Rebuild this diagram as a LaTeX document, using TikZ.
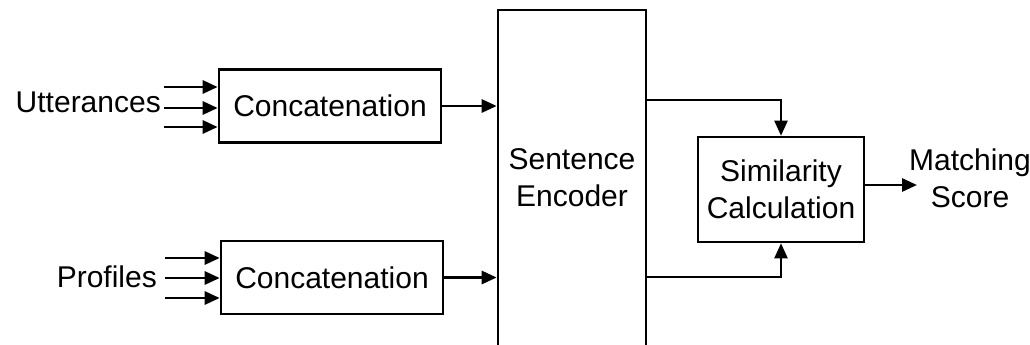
\documentclass[tikz,border=0pt]{standalone}
\usepackage{fontspec}
\setmainfont{Liberation Sans}
\usetikzlibrary{arrows.meta}
\begin{document}
\begin{tikzpicture}[x=1pt,y=-1pt,
  every node/.style={font=\fontsize{30}{37}\selectfont, inner sep=0pt},
  blk/.style={draw, line width=2.6pt, minimum width=222pt, minimum height=73pt, align=center},
  conn/.style={line width=2.8pt, -{Triangle[length=15pt,width=13pt]}}]
\useasboundingbox (0,0) rectangle (1030,345);
\clip (0,0) rectangle (1030,345);

% concatenation blocks
\node[blk] (cu) at (330,106) {Concatenation};
\node[blk] (cp) at (332,277.5) {Concatenation};

% sentence encoder (runs past the lower edge)
\node[draw, line width=2.6pt, minimum width=148pt, minimum height=350pt] (enc) at (572,185) {};
\node[align=center] (enctext) at (572,178) {Sentence\\Encoder};

% similarity block
\node[blk, minimum width=166pt, minimum height=105pt] (sim) at (781,189.5) {Similarity\\Calculation};

% output label
\node[align=center] (score) at (970,178) {Matching\\Score};

% input labels
\node[anchor=base east] (utt) at (161,112) {Utterances};
\node[anchor=base east] (prof) at (157,287) {Profiles};

% input arrow tails
\coordinate (u1) at (164,87);
\coordinate (u2) at (164,108);
\coordinate (u3) at (164,127);
\coordinate (p1) at (165,258);
\coordinate (p2) at (165,278);
\coordinate (p3) at (165,298);

\draw[conn] (u1) -- (u1 -| cu.west);
\draw[conn] (u2) -- (u2 -| cu.west);
\draw[conn] (u3) -- (u3 -| cu.west);
\draw[conn] (p1) -- (p1 -| cp.west);
\draw[conn] (p2) -- (p2 -| cp.west);
\draw[conn] (p3) -- (p3 -| cp.west);

% into the encoder
\draw[conn] (cu.east) -- (cu.east -| enc.west);
\draw[conn] (cp.east) -- (cp.east -| enc.west);

% encoder outputs to similarity
\coordinate (eo1) at (646,100);
\coordinate (eo2) at (646,277);
\draw[conn, line width=2.2pt] (eo1 -| enc.east) -| (sim.north);
\draw[conn, line width=2.2pt] (eo2 -| enc.east) -| (sim.south);

% similarity to score
\coordinate (so) at (864,185);
\coordinate (si) at (917,185);
\draw[conn] (so -| sim.east) -- (si);
\end{tikzpicture}
\end{document}
